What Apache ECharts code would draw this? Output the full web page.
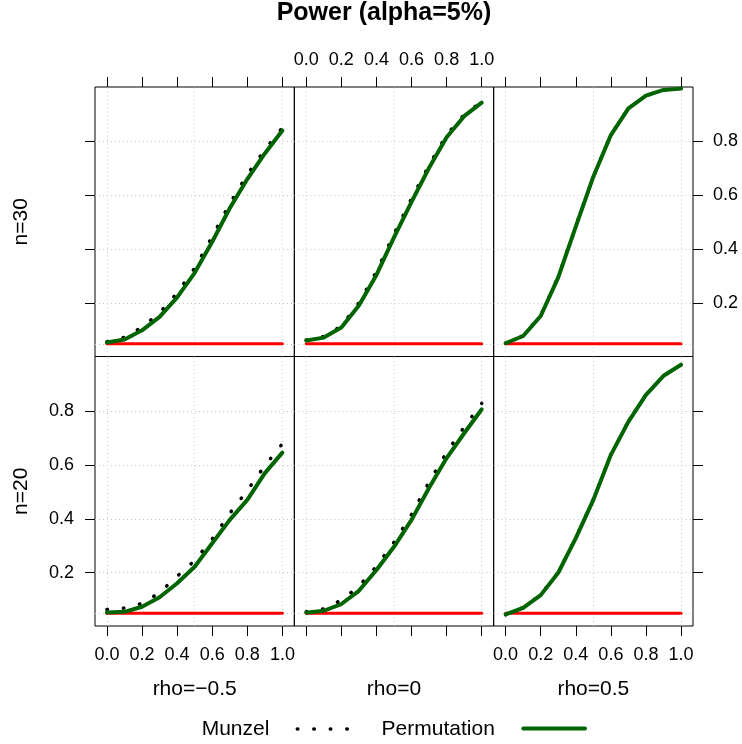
<!DOCTYPE html>
<html><head><meta charset="utf-8">
<script src="https://cdn.jsdelivr.net/npm/echarts@6.0.0/dist/echarts.min.js"></script>
<style>html,body{margin:0;padding:0;background:#fff}#c{width:742px;height:744px}</style>
</head><body><div id="c"></div>
<script>
// ---- data ----
const xVals = [0, 0.1, 0.2, 0.3, 0.4, 0.5, 0.6, 0.7, 0.8, 0.9, 1.0];
const alphaLevel = 0.05;
const rowLabels = ['n=30', 'n=20'];
const colLabels = ['rho=\u22120.5', 'rho=0', 'rho=0.5'];
const xTicks = [0, 0.2, 0.4, 0.6, 0.8, 1.0];
const yTicks = [0.2, 0.4, 0.6, 0.8];
const xGridVals = [0, 0.5, 1.0];
const yGridVals = [0.05, 0.2, 0.4, 0.6, 0.8];

// Permutation test power
const perm_n30_rhoM05 = [0.055, 0.066, 0.100, 0.150, 0.222, 0.313, 0.428, 0.552, 0.660, 0.755, 0.840];
const perm_n30_rho0   = [0.062, 0.073, 0.110, 0.192, 0.305, 0.444, 0.576, 0.702, 0.815, 0.893, 0.943];
const perm_n30_rho05  = [0.052, 0.079, 0.153, 0.296, 0.484, 0.669, 0.823, 0.922, 0.969, 0.990, 0.995];
const perm_n20_rhoM05 = [0.053, 0.055, 0.074, 0.109, 0.161, 0.222, 0.309, 0.396, 0.470, 0.569, 0.645];
const perm_n20_rho0   = [0.052, 0.059, 0.084, 0.133, 0.210, 0.296, 0.396, 0.515, 0.625, 0.717, 0.806];
const perm_n20_rho05  = [0.046, 0.070, 0.117, 0.200, 0.328, 0.470, 0.637, 0.760, 0.859, 0.930, 0.971];

// Munzel test power
const munz_n30_rhoM05 = [0.058, 0.074, 0.112, 0.165, 0.238, 0.330, 0.447, 0.569, 0.677, 0.769, 0.850];
const munz_n30_rho0   = [0.064, 0.077, 0.116, 0.202, 0.318, 0.456, 0.588, 0.712, 0.824, 0.899, 0.947];
const munz_n30_rho05  = [0.053, 0.080, 0.155, 0.298, 0.486, 0.670, 0.824, 0.922, 0.969, 0.990, 0.995];
const munz_n20_rhoM05 = [0.064, 0.069, 0.086, 0.126, 0.187, 0.245, 0.325, 0.420, 0.505, 0.597, 0.678];
const munz_n20_rho0   = [0.055, 0.066, 0.098, 0.150, 0.224, 0.313, 0.416, 0.536, 0.646, 0.740, 0.828];
const munz_n20_rho05  = [0.044, 0.071, 0.118, 0.202, 0.330, 0.472, 0.638, 0.761, 0.860, 0.930, 0.971];

const permRows = [[perm_n30_rhoM05, perm_n30_rho0, perm_n30_rho05], [perm_n20_rhoM05, perm_n20_rho0, perm_n20_rho05]];
const munzRows = [[munz_n30_rhoM05, munz_n30_rho0, munz_n30_rho05], [munz_n20_rhoM05, munz_n20_rho0, munz_n20_rho05]];

// ---- layout ----
const FONT = '"Liberation Sans", Arial, Helvetica, sans-serif';
const lefts = [95, 294.33, 493.67], panelW = 199.33;
const tops = [87, 356.5], panelH = 269.5;
const yRanges = [[0.003, 1.001], [0.0025, 1.0015]];

const grids = [], xAxes = [], yAxes = [], series = [];
const pair = a => a.map((v, i) => [xVals[i], v]);
let gi = 0;
for (let r = 0; r < 2; r++) {
  for (let c = 0; c < 3; c++) {
    grids.push({left: lefts[c], top: tops[r], width: panelW, height: panelH,
      show: true, borderColor: '#000', borderWidth: 1, backgroundColor: 'transparent'});
    const xLabelShow = (r === 0 && c === 1) || (r === 1 && c !== 1);
    xAxes.push({
      type: 'value', gridIndex: gi, min: -0.068, max: 1.068,
      position: r === 0 ? 'top' : 'bottom',
      axisLine: {show: false, onZero: false}, splitLine: {show: false},
      axisTick: {show: true, customValues: xTicks, length: 10, inside: false, lineStyle: {color: '#000', width: 1}},
      axisLabel: {show: xLabelShow, customValues: xTicks, formatter: v => v.toFixed(1),
        margin: r === 0 ? 18 : 20, fontSize: 18, color: '#000', fontFamily: FONT}
    });
    const yTickShow = c !== 1;
    const yLabelShow = (r === 1 && c === 0) || (r === 0 && c === 2);
    yAxes.push({
      type: 'value', gridIndex: gi, min: yRanges[r][0], max: yRanges[r][1],
      position: c === 2 ? 'right' : 'left',
      axisLine: {show: false, onZero: false}, splitLine: {show: false},
      axisTick: {show: yTickShow, customValues: yTicks, length: 10, inside: false, lineStyle: {color: '#000', width: 1}},
      axisLabel: {show: yLabelShow, customValues: yTicks, formatter: v => v.toFixed(1),
        margin: c === 2 ? 20 : 21, fontSize: 18, color: '#000', fontFamily: FONT}
    });
    // reference grid (dotted, under everything)
    series.push({
      type: 'line', xAxisIndex: gi, yAxisIndex: gi, data: [], z: 1, silent: true,
      markLine: {silent: true, z: 1, symbol: 'none', animation: false, label: {show: false},
        emphasis: {disabled: true},
        lineStyle: {color: '#c8c8c8', type: [1, 3], width: 1},
        data: xGridVals.map(v => ({xAxis: v})).concat(yGridVals.map(v => ({yAxis: v})))}
    });
    // alpha level
    series.push({
      type: 'line', name: 'alpha', xAxisIndex: gi, yAxisIndex: gi, z: 2,
      data: [[xVals[0], alphaLevel], [xVals[xVals.length - 1], alphaLevel]],
      showSymbol: false, symbol: 'none', lineStyle: {color: '#ff0000', width: 3, cap: 'round'}
    });
    series.push({
      type: 'line', name: 'Munzel', xAxisIndex: gi, yAxisIndex: gi, z: 3,
      data: pair(munzRows[r][c]), showSymbol: false, symbol: 'none',
      lineStyle: {color: '#000', width: 3.5, type: [0.5, 16], cap: 'round'}
    });
    series.push({
      type: 'line', name: 'Permutation', xAxisIndex: gi, yAxisIndex: gi, z: 4,
      data: pair(permRows[r][c]), showSymbol: false, symbol: 'none',
      lineStyle: {color: '#006400', width: 4, cap: 'round', join: 'round'}
    });
    gi++;
  }
}

const txt = (x, y, text, size, extra) => Object.assign({
  type: 'text', x: x, y: y, silent: true,
  style: Object.assign({text: text, fill: '#000', fontSize: size, fontFamily: FONT,
    align: 'center', verticalAlign: 'middle', textAlign: 'center', textVerticalAlign: 'middle'}, (extra && extra.style) || {})
}, extra && extra.rotation !== undefined ? {rotation: extra.rotation} : {});

const graphics = [
  txt(384, 13, 'Power (alpha=5%)', 25, {style: {fontWeight: 'bold'}}),
  txt(21, tops[0] + panelH / 2, rowLabels[0], 21, {rotation: Math.PI / 2}),
  txt(21, tops[1] + panelH / 2, rowLabels[1], 21, {rotation: Math.PI / 2}),
  txt(lefts[0] + panelW / 2, 689.3, colLabels[0], 21),
  txt(lefts[1] + panelW / 2, 689.3, colLabels[1], 21),
  txt(lefts[2] + panelW / 2, 689.3, colLabels[2], 21),
  txt(201.7, 729.3, 'Munzel', 21, {style: {align: 'left', textAlign: 'left'}}),
  {type: 'line', silent: true, shape: {x1: 297.3, y1: 729, x2: 347.5, y2: 729},
   style: {stroke: '#000', lineWidth: 3.5, lineDash: [0.5, 16], lineCap: 'round'}},
  txt(381.6, 729.3, 'Permutation', 21, {style: {align: 'left', textAlign: 'left'}}),
  {type: 'line', silent: true, shape: {x1: 523.3, y1: 728.5, x2: 585, y2: 728.5},
   style: {stroke: '#006400', lineWidth: 4, lineCap: 'round'}}
];

const chart = echarts.init(document.getElementById('c'), null, {renderer: 'canvas'});
chart.setOption({
  animation: false,
  backgroundColor: '#ffffff',
  grid: grids, xAxis: xAxes, yAxis: yAxes, series: series,
  graphic: graphics
});
</script></body></html>
